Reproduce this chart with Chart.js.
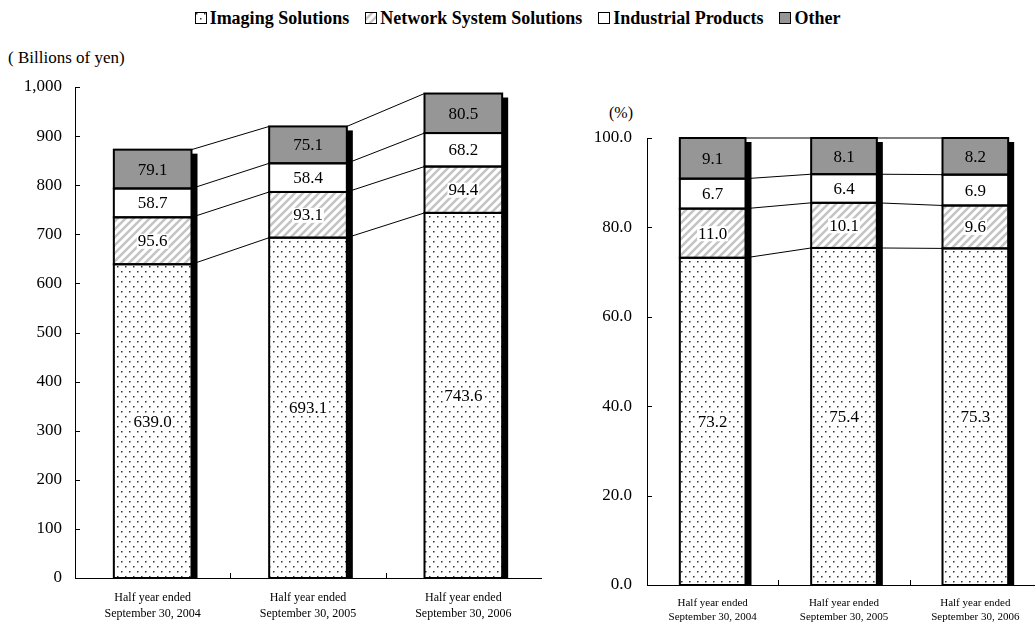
<!DOCTYPE html>
<html>
<head>
<meta charset="utf-8">
<title>Net sales by segment</title>
<script src="https://cdn.jsdelivr.net/npm/chart.js@4.4.1/dist/chart.umd.min.js"></script>
<style>
  html, body { margin: 0; padding: 0; background: #fff; }
  body {
    width: 1035px; height: 624px; position: relative; overflow: hidden;
    font-family: "Liberation Serif", "Times New Roman", serif; color: #000;
  }
  canvas { position: absolute; top: 0; }
  #salesChart { left: 0; }
  #shareChart { left: 560px; }
  #legend {
    position: absolute; top: 7px; left: 0; width: 1035px; text-align: center; white-space: nowrap;
    font-weight: bold; font-size: 18px; line-height: 22px;
  }
  #legend .item { display: inline-flex; align-items: center; margin: 0 8px; }
  #legend canvas { position: static; margin-right: 3px; }
  .unit { position: absolute; line-height: 18px; }
</style>
</head>
<body>
<div id="legend"></div>
<div class="unit" style="left:8px; top:49px; font-size:17px;">( Billions of yen)</div>
<div class="unit" style="left:609px; top:104px; font-size:16px;">(%)</div>
<canvas id="salesChart" width="555" height="624"></canvas>
<canvas id="shareChart" width="490" height="624"></canvas>

<script>
const categories = [
  ['Half year ended', 'September 30, 2004'],
  ['Half year ended', 'September 30, 2005'],
  ['Half year ended', 'September 30, 2006']
];
const segmentNames = ['Imaging Solutions', 'Network System Solutions', 'Industrial Products', 'Other'];

// Net sales, billions of yen
const imagingSales = [639.0, 693.1, 743.6];
const networkSales = [95.6, 93.1, 94.4];
const industrialSales = [58.7, 58.4, 68.2];
const otherSales = [79.1, 75.1, 80.5];

// Share of net sales, %
const imagingShare = [73.2, 75.4, 75.3];
const networkShare = [11.0, 10.1, 9.6];
const industrialShare = [6.7, 6.4, 6.9];
const otherShare = [9.1, 8.1, 8.2];

const salesTicks = [0, 100, 200, 300, 400, 500, 600, 700, 800, 900, 1000];
const shareTicks = [0, 20, 40, 60, 80, 100];

const SERIF = '"Liberation Serif", "Times New Roman", serif';

// fill patterns
function dotPattern() {
  const c = document.createElement('canvas');
  c.width = 8; c.height = 10;
  const g = c.getContext('2d');
  g.fillStyle = '#fff';
  g.fillRect(0, 0, 8, 10);
  g.fillStyle = '#333';
  g.fillRect(1, 1, 1.5, 1.5);
  g.fillRect(5, 6, 1.5, 1.5);
  return g.createPattern(c, 'repeat');
}

function hatchPattern() {
  const s = 8;
  const c = document.createElement('canvas');
  c.width = s; c.height = s;
  const g = c.getContext('2d');
  g.fillStyle = '#fff';
  g.fillRect(0, 0, s, s);
  g.strokeStyle = '#c4c4c4';
  g.lineWidth = 2.5;
  g.beginPath();
  g.moveTo(-2, s + 2); g.lineTo(s + 2, -2);
  g.moveTo(-2, 2); g.lineTo(2, -2);
  g.moveTo(s - 2, s + 2); g.lineTo(s + 2, s - 2);
  g.stroke();
  return g.createPattern(c, 'repeat');
}

const fills = [dotPattern(), hatchPattern(), '#ffffff', '#969696'];
const boxedLabels = [true, true, false, false];

// legend
const legendEl = document.getElementById('legend');
segmentNames.forEach((name, i) => {
  const item = document.createElement('span');
  item.className = 'item';
  const sw = document.createElement('canvas');
  sw.width = 12; sw.height = 12;
  const g = sw.getContext('2d');
  g.fillStyle = fills[i];
  g.fillRect(0, 0, 12, 12);
  g.strokeStyle = '#000';
  g.lineWidth = 1;
  g.strokeRect(0.5, 0.5, 11, 11);
  item.appendChild(sw);
  item.appendChild(document.createTextNode(name));
  legendEl.appendChild(item);
});

// connector lines, shadows, outlines, inside ticks and value labels
const barDecor = {
  id: 'barDecor',
  beforeDatasetsDraw(chart) {
    const ctx = chart.ctx;
    const metas = chart.data.datasets.map((d, i) => chart.getDatasetMeta(i));
    const bottom = chart.scales.y.getPixelForValue(0);
    ctx.save();
    ctx.strokeStyle = '#000';
    ctx.lineWidth = 1;
    metas.forEach(meta => {
      for (let i = 0; i < meta.data.length - 1; i++) {
        const a = meta.data[i], b = meta.data[i + 1];
        ctx.beginPath();
        ctx.moveTo(a.x + a.width / 2, a.y);
        ctx.lineTo(b.x - b.width / 2, b.y);
        ctx.stroke();
      }
    });
    ctx.fillStyle = '#000';
    metas[metas.length - 1].data.forEach(bar => {
      ctx.fillRect(bar.x + bar.width / 2, bar.y + 4, 6, bottom - bar.y - 4);
    });
    ctx.restore();
  },
  afterDatasetsDraw(chart) {
    const ctx = chart.ctx;
    const area = chart.chartArea;
    ctx.save();
    // segment outlines
    ctx.strokeStyle = '#000';
    ctx.lineWidth = 2;
    chart.data.datasets.forEach((ds, di) => {
      chart.getDatasetMeta(di).data.forEach(bar => {
        ctx.strokeRect(bar.x - bar.width / 2, bar.y, bar.width, bar.base - bar.y);
      });
    });
    // inside tick marks
    ctx.lineWidth = 1;
    const ys = chart.scales.y;
    ys.ticks.forEach(t => {
      const y = Math.round(ys.getPixelForValue(t.value)) + 0.5;
      ctx.beginPath();
      ctx.moveTo(area.left, y);
      ctx.lineTo(area.left + 5, y);
      ctx.stroke();
    });
    const xs = chart.scales.x;
    for (let i = 1; i < chart.data.labels.length; i++) {
      const x = Math.round((xs.getPixelForValue(i - 1) + xs.getPixelForValue(i)) / 2) + 0.5;
      ctx.beginPath();
      ctx.moveTo(x, area.bottom);
      ctx.lineTo(x, area.bottom - 5);
      ctx.stroke();
    }
    // value labels
    ctx.font = '17px ' + SERIF;
    ctx.textAlign = 'center';
    ctx.textBaseline = 'middle';
    chart.data.datasets.forEach((ds, di) => {
      chart.getDatasetMeta(di).data.forEach((bar, i) => {
        const text = ds.data[i].toFixed(1);
        const cy = (bar.y + bar.base) / 2;
        if (boxedLabels[di]) {
          const w = ctx.measureText(text).width;
          ctx.fillStyle = '#fff';
          ctx.fillRect(bar.x - w / 2 - 1, cy - 7, w + 2, 15);
        }
        ctx.fillStyle = '#000';
        ctx.fillText(text, bar.x, cy + 1);
      });
    });
    ctx.restore();
  }
};

function buildChart(id, series, ticks, opts) {
  const datasets = series.map((data, i) => ({
    label: segmentNames[i],
    data: data,
    backgroundColor: fills[i],
    borderWidth: 0
  }));
  return new Chart(document.getElementById(id), {
    type: 'bar',
    data: { labels: categories, datasets: datasets },
    options: {
      responsive: false,
      animation: false,
      layout: { padding: { top: opts.top, right: opts.right, left: 0, bottom: 0 } },
      datasets: { bar: { categoryPercentage: 1, barPercentage: 0.5 } },
      plugins: { legend: { display: false }, tooltip: { enabled: false } },
      scales: {
        x: {
          stacked: true,
          grid: { display: false, drawTicks: false },
          border: { color: '#000', width: 1 },
          ticks: {
            color: '#000',
            padding: opts.labelPad,
            maxRotation: 0,
            font: { family: SERIF, size: opts.labelSize, lineHeight: opts.labelLine }
          },
          afterFit(scale) { scale.height = opts.xHeight; }
        },
        y: {
          stacked: true,
          min: 0,
          max: ticks[ticks.length - 1],
          grid: { display: false, drawTicks: false },
          border: { color: '#000', width: 1 },
          afterBuildTicks(scale) { scale.ticks = ticks.map(v => ({ value: v })); },
          ticks: {
            color: '#000',
            padding: opts.tickPad,
            font: { family: SERIF, size: 17 },
            callback: opts.format
          },
          afterFit(scale) { scale.width = opts.yWidth; }
        }
      }
    },
    plugins: [barDecor]
  });
}

buildChart('salesChart',
  [imagingSales, networkSales, industrialSales, otherSales],
  salesTicks,
  {
    top: 87, right: 14, yWidth: 75, xHeight: 46,
    labelPad: 12, labelSize: 12, labelLine: 1.3, tickPad: 13,
    format: v => v.toLocaleString('en-US')
  });

buildChart('shareChart',
  [imagingShare, networkShare, industrialShare, otherShare],
  shareTicks,
  {
    top: 138, right: 9, yWidth: 87, xHeight: 39,
    labelPad: 11, labelSize: 11, labelLine: 1.27, tickPad: 15,
    format: v => v.toFixed(1)
  });
</script>
</body>
</html>
